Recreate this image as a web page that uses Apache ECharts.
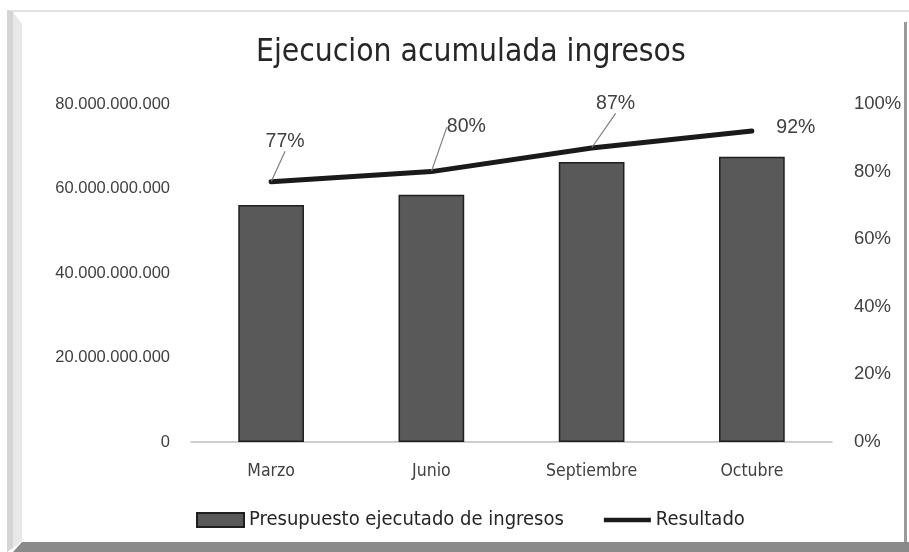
<!DOCTYPE html>
<html>
<head>
<meta charset="utf-8">
<script src="https://cdn.jsdelivr.net/npm/echarts@6/dist/echarts.min.js"></script>
<style>
  html, body { margin: 0; padding: 0; background: #fff; }
  #main { width: 909px; height: 552px; }
</style>
</head>
<body>
<div id="main"></div>
<script>
let meses = ['Marzo', 'Junio', 'Septiembre', 'Octubre'];
let presupuesto = [56100000000, 58500000000, 66300000000, 67500000000];
let resultado = [0.77, 0.80, 0.87, 0.92];
// desplazamiento de etiquetas (dx, dy) respecto a la posicion por defecto
let desplaza = [[14, -24], [35, -28], [24, -28], [44, 13]];

let chart = echarts.init(document.getElementById('main'));
let estrecha = '"DejaVu Sans Condensed", "Liberation Sans", sans-serif';

function puntos(v) {
    return String(v).replace(/\B(?=(\d{3})+(?!\d))/g, '.');
}

let datosLinea = resultado.map(function (v, i) {
    // el ultimo punto no lleva linea guia
    return i === resultado.length - 1 ? {value: v, labelLine: {show: false}} : v;
});

option = {
    backgroundColor: '#ffffff',
    title: {
        text: 'Ejecucion acumulada ingresos',
        left: 251,
        top: 32,
        textStyle: {
            fontFamily: estrecha,
            fontWeight: 'normal',
            fontSize: 31.5,
            color: '#262626'
        }
    },
    legend: {
        bottom: 17,
        left: 191,
        itemWidth: 47,
        itemHeight: 14,
        itemGap: 40,
        textStyle: {
            fontFamily: estrecha,
            fontSize: 20,
            color: '#262626'
        },
        data: [
            {name: 'Presupuesto ejecutado de ingresos', icon: 'rect'},
            {name: 'Resultado', icon: 'path://M0,0 L52,0 L52,5 L0,5 Z'}
        ]
    },
    grid: {
        left: 191,
        right: 77,
        top: 104,
        bottom: 110
    },
    xAxis: {
        type: 'category',
        data: meses,
        axisTick: {show: false},
        axisLine: {lineStyle: {color: '#bfbfbf', width: 1.5}},
        axisLabel: {
            margin: 20,
            fontFamily: estrecha,
            fontSize: 17.5,
            color: '#404040'
        }
    },
    yAxis: [
        {
            type: 'value',
            min: 0,
            max: 80000000000,
            interval: 20000000000,
            splitLine: {show: false},
            axisLabel: {
                margin: 21,
                fontFamily: 'Liberation Sans',
                fontSize: 16.5,
                color: '#404040',
                formatter: puntos
            }
        },
        {
            type: 'value',
            min: 0,
            max: 1,
            interval: 0.2,
            splitLine: {show: false},
            axisLabel: {
                margin: 22,
                fontFamily: 'Liberation Sans',
                fontSize: 18.5,
                color: '#404040',
                formatter: function (v) { return Math.round(v * 100) + '%'; }
            }
        }
    ],
    series: [
        {
            name: 'Presupuesto ejecutado de ingresos',
            type: 'bar',
            barWidth: '41%',
            data: presupuesto,
            itemStyle: {
                color: '#595959',
                borderColor: '#1f1f1f',
                borderWidth: 1.5
            }
        },
        {
            name: 'Resultado',
            type: 'line',
            yAxisIndex: 1,
            data: datosLinea,
            symbol: 'circle',
            symbolSize: 1,
            showSymbol: true,
            lineStyle: {color: '#1a1a1a', width: 5, cap: 'round'},
            itemStyle: {color: '#1a1a1a'},
            label: {
                show: true,
                position: 'top',
                distance: 6,
                fontFamily: 'Liberation Sans',
                fontSize: 19.5,
                color: '#404040',
                formatter: function (p) { return Math.round(p.value * 100) + '%'; }
            },
            labelLine: {
                show: true,
                lineStyle: {color: '#7f7f7f', width: 1.2}
            },
            labelLayout: function (p) {
                let d = desplaza[p.dataIndex];
                return {dx: d[0], dy: d[1]};
            }
        }
    ],
    graphic: [
        {type: 'rect', shape: {x: 7, y: 10, width: 902, height: 2}, style: {fill: '#e2e2e2'}, silent: true},
        {type: 'polygon', shape: {points: [[7, 10], [13, 12], [13, 548], [7, 552]]}, style: {fill: '#d4d4d4'}, silent: true},
        {type: 'polygon', shape: {points: [[13, 12], [22, 24], [22, 541], [13, 548]]}, style: {fill: '#e8e8e8'}, silent: true},
        {type: 'polygon', shape: {points: [[13, 552], [22, 542], [909, 542], [909, 552]]}, style: {fill: '#8a8a8a'}, silent: true},
        {type: 'rect', shape: {x: 904, y: 22, width: 3, height: 520}, style: {fill: '#9a9a9a'}, silent: true}
    ]
};
chart.setOption(option);
</script>
</body>
</html>
